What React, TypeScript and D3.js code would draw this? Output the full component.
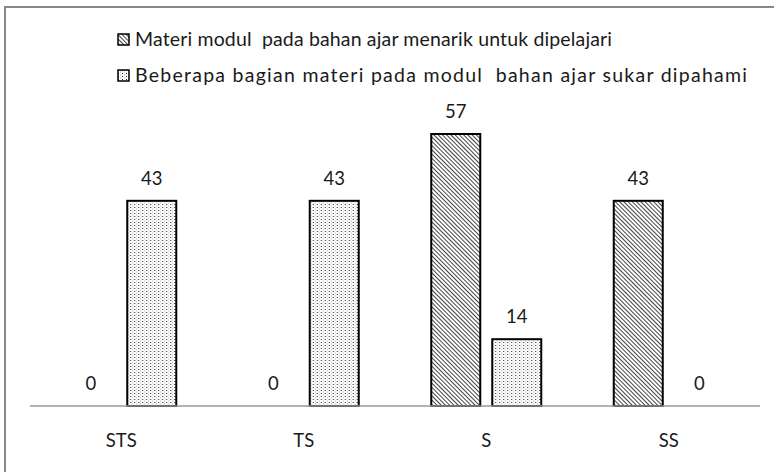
import React from "react";
import * as d3 from "d3";

const categories = ["STS", "TS", "S", "SS"];
const seriesNames = [
  "Materi modul  pada bahan ajar menarik untuk dipelajari",
  "Beberapa bagian materi pada modul  bahan ajar sukar dipahami",
];
const legendWidths = [477, 612];
const seriesA = [0, 0, 57, 43];
const seriesB = [43, 43, 14, 0];

const W = 774;
const H = 472;
const FONT = "Lato, 'Open Sans', sans-serif";

export default function App() {
  const x0 = d3.scaleBand<string>().domain(categories).range([30, 760]).padding(0);
  const groupW = 110;
  const x1 = d3
    .scaleBand<number>()
    .domain([0, 1])
    .range([0, groupW])
    .paddingInner(12 / 61)
    .paddingOuter(0);
  const y = d3.scaleLinear().domain([0, 57]).range([406, 134]);
  const series = [seriesA, seriesB];
  const fills = ["url(#hatch)", "url(#dots)"];

  return (
    <svg
      width={W}
      height={H}
      style={{ position: "absolute", left: 0, top: 0, background: "#fff" }}
    >
      <defs>
        <pattern id="hatch" width="3" height="3" patternUnits="userSpaceOnUse" patternTransform="rotate(45)">
          <rect width="3" height="3" fill="#fff" />
          <rect width="3" height="1" fill="#444" />
        </pattern>
        <pattern id="dots" width="4" height="3" patternUnits="userSpaceOnUse">
          <rect width="4" height="3" fill="#fff" />
          <rect x="0" y="0" width="1" height="1" fill="#222" />
          <rect x="2" y="1.5" width="1" height="1" fill="#aaa" />
        </pattern>
      </defs>
      <rect x={0} y={0} width={W} height={H} fill="#fff" />
      {/* frame */}
      <path d={`M5,${H + 5} V7 H${W + 5}`} fill="none" stroke="#888" strokeWidth={2} />

      {/* legend */}
      {seriesNames.map((name, i) => (
        <g key={name} transform={`translate(118, ${34 + i * 36})`}>
          <rect x={0} y={0} width={11} height={11} fill={fills[i]} stroke="#000" strokeWidth={1.5} />
          <text
            x={17}
            y={12}
            fontFamily={FONT}
            fontSize={19.5}
            fill="#1a1a1a"
            textLength={legendWidths[i]}
            lengthAdjust="spacing"
          >
            {name.replace(/ /g, "\u00a0")}
          </text>
        </g>
      ))}

      {/* bars */}
      {categories.map((c, ci) => (
        <g key={c} transform={`translate(${(x0(c) as number) + (x0.bandwidth() - groupW) / 2},0)`}>
          {series.map((s, si) => {
            const v = s[ci];
            const bx = x1(si) as number;
            const bw = x1.bandwidth();
            return (
              <g key={si}>
                {v > 0 && (
                  <rect
                    x={bx}
                    y={y(v)}
                    width={bw}
                    height={y(0) - y(v)}
                    fill={fills[si]}
                    stroke="#000"
                    strokeWidth={2}
                  />
                )}
                <text
                  x={bx + bw / 2}
                  y={y(v) - 16}
                  textAnchor="middle"
                  fontFamily={FONT}
                  fontSize={18.5}
                  fill="#1a1a1a"
                >
                  {v}
                </text>
              </g>
            );
          })}
        </g>
      ))}

      {/* axis */}
      <line x1={30} x2={760} y1={406} y2={406} stroke="#999" strokeWidth={1.5} />
      {categories.map((c) => (
        <text
          key={c}
          x={(x0(c) as number) + x0.bandwidth() / 2}
          y={447}
          textAnchor="middle"
          fontFamily={FONT}
          fontSize={18.5}
          fill="#1a1a1a"
        >
          {c}
        </text>
      ))}
    </svg>
  );
}
